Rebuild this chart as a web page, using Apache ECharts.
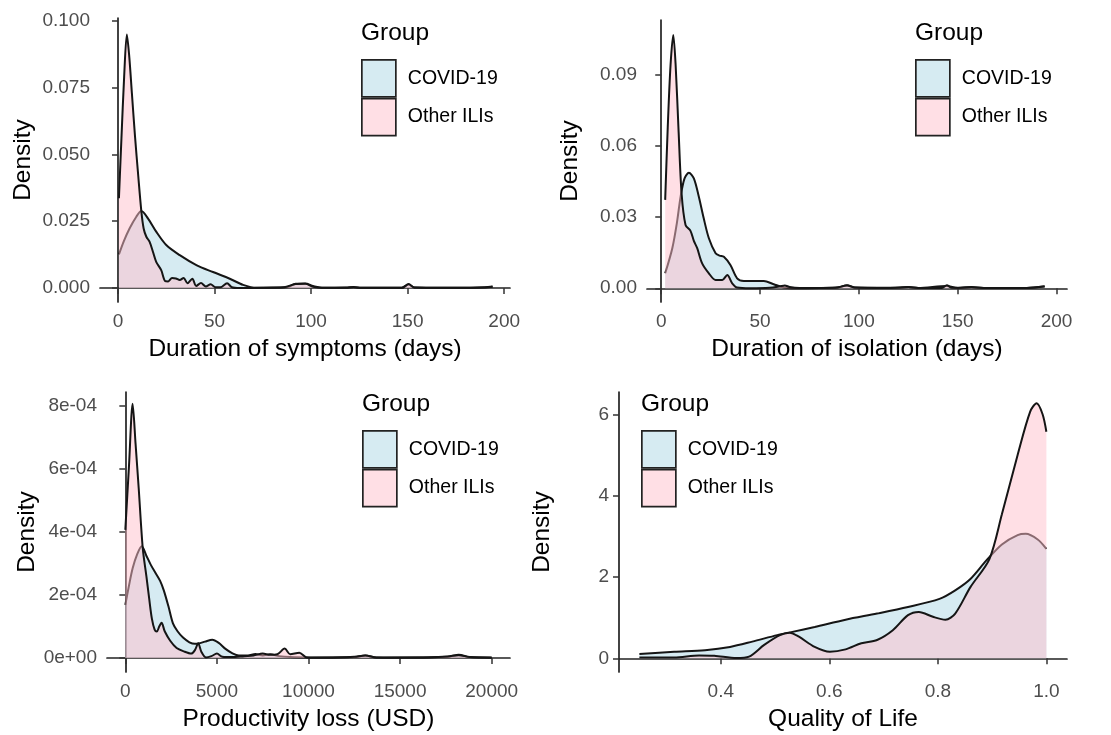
<!DOCTYPE html>
<html>
<head>
<meta charset="utf-8">
<title>Density plots</title>
<script src="https://cdn.jsdelivr.net/npm/echarts@6/dist/echarts.min.js"></script>
<style>
  html, body { margin: 0; padding: 0; background: #fff; }
  #chart { width: 1111px; height: 735px; }
</style>
</head>
<body>
<div id="chart"></div>
<script>
// ---------- values ----------
const groups = ['COVID-19', 'Other ILIs'];

// duration of symptoms (days) -> density
const symptomsCovid = [
  [0.5, 0.0126], [3, 0.0175], [6, 0.0223], [9.5, 0.0267], [12.1, 0.0288], [15.5, 0.0261],
  [19.8, 0.0211], [25, 0.0161], [32, 0.0123], [40.6, 0.0086], [49.2, 0.006], [57.9, 0.0035],
  [64.8, 0.0012], [71.7, 0.0001], [80, 0.0002], [88, 0.0004], [92, 0.0016], [97, 0.0017],
  [101, 0.0008], [106, 0.0001], [118, 0.0002], [122, 0.0004], [126, 0.0001], [147, 0.0001],
  [150.5, 0.0013], [153.5, 0.0002], [175, 0.0001], [190, 0.0003], [194, 0.0006]
];
const symptomsOther = [
  [0.5, 0.0336], [1.8, 0.056], [3.2, 0.079], [4.6, 0.0948], [5.8, 0.087], [7.2, 0.073],
  [8.8, 0.057], [10.5, 0.042], [12.1, 0.0288], [13.3, 0.0223], [14.7, 0.0192], [16.4, 0.0173],
  [18.1, 0.0136], [19.8, 0.0098], [22.4, 0.0067], [24.5, 0.0026], [26, 0.0025], [28, 0.0038],
  [30, 0.0036], [32, 0.003], [34, 0.0038], [36, 0.0018], [38.5, 0.0035], [40.5, 0.0008],
  [43, 0.0019], [45.5, 0.0006], [48, 0.0014], [50.5, 0.0003], [53, 0.0003], [56.5, 0.0018],
  [59, 0.0003], [63, 0], [75, 0.0001], [86, 0.0003], [92, 0.0015], [97, 0.0016], [101, 0.0005],
  [106, 0.0001], [118, 0.0001], [122, 0.0003], [126, 0.0001], [147, 0.0001], [150.5, 0.0015],
  [153.5, 0.0002], [175, 0.0001], [190, 0.0002], [194, 0.0005]
];

// duration of isolation (days) -> density
const isolationCovid = [
  [2, 0.0063], [5.6, 0.0169], [8, 0.028], [9.8, 0.0387], [11.8, 0.0464], [14, 0.0487],
  [16.5, 0.0464], [19, 0.0387], [21.5, 0.0295], [24.1, 0.0211], [27.5, 0.0148], [29.5, 0.0138],
  [31.7, 0.0133], [35, 0.0098], [38.4, 0.0042], [41.8, 0.0031], [47, 0.0031], [51.9, 0.0031],
  [56.9, 0.0017], [62, 0.0003], [66, 0], [80, 0.0001], [90, 0.0004], [94, 0.0013], [98, 0.0003],
  [120, 0.0002], [125, 0.0005], [130, 0.0001], [144.5, 0.001], [150, 0.0001], [157, 0.0004],
  [165, 0.0001], [185, 0.0001], [194, 0.0007]
];
const isolationOther = [
  [2, 0.0373], [3.3, 0.068], [4.7, 0.094], [6.1, 0.1069], [7.3, 0.094], [8.8, 0.066],
  [10.3, 0.04], [12.3, 0.0267], [14.8, 0.0242], [16.5, 0.02], [18.2, 0.0169], [20.7, 0.0105],
  [24.1, 0.0063], [27.5, 0.0035], [30.9, 0.0035], [33.4, 0.0056], [35.9, 0.0021], [38.4, 0.0003],
  [45, 0], [55, 0.0002], [60, 0.0008], [62.5, 0.0012], [65, 0.0005], [70, 0.0001], [88, 0.0002],
  [94, 0.0012], [98, 0.0003], [115, 0.0001], [125, 0.0005], [130, 0.0001], [142, 0.0001],
  [144.5, 0.0013], [147, 0.0002], [157, 0.0005], [163, 0.0001], [185, 0.0001], [194, 0.0008]
];

// productivity loss (USD) -> density
const lossCovid = [
  [0, 1.69e-4], [200, 2.3e-4], [400, 2.85e-4], [650, 3.3e-4], [900, 3.55e-4], [1150, 3.25e-4],
  [1400, 2.95e-4], [1650, 2.7e-4], [1900, 2.45e-4], [2100, 2.15e-4], [2350, 1.65e-4],
  [2600, 1.1e-4], [2850, 0.85e-4], [3150, 0.65e-4], [3500, 0.5e-4], [3800, 0.45e-4],
  [4000, 0.46e-4], [4350, 0.52e-4], [4750, 0.58e-4], [5100, 0.48e-4], [5450, 0.3e-4],
  [5850, 0.15e-4], [6200, 0.08e-4], [6700, 0.08e-4], [7100, 0.13e-4], [7500, 0.08e-4],
  [7900, 0.12e-4], [8400, 0.06e-4], [9000, 0.03e-4], [10000, 0.02e-4], [12500, 0.03e-4],
  [13100, 0.08e-4], [13700, 0.02e-4], [17600, 0.04e-4], [18200, 0.1e-4], [18800, 0.03e-4],
  [20000, 0.01e-4]
];
const lossOther = [
  [0, 4.07e-4], [200, 6.1e-4], [400, 8.08e-4], [560, 6.8e-4], [730, 5.4e-4], [950, 3.5e-4],
  [1150, 2.6e-4], [1300, 1.9e-4], [1450, 1.25e-4], [1600, 0.9e-4], [1720, 0.84e-4],
  [1850, 1.0e-4], [1980, 1.12e-4], [2150, 0.85e-4], [2450, 0.55e-4], [2800, 0.32e-4],
  [3200, 0.21e-4], [3600, 0.14e-4], [3800, 0.25e-4], [3980, 0.47e-4], [4150, 0.2e-4],
  [4400, 0.02e-4], [4700, 0.06e-4], [5000, 0.14e-4], [5300, 0.04e-4], [5800, 0.03e-4],
  [6500, 0.06e-4], [7000, 0.08e-4], [7500, 0.14e-4], [7900, 0.1e-4], [8300, 0.12e-4],
  [8700, 0.3e-4], [9000, 0.12e-4], [9500, 0.17e-4], [9900, 0.02e-4], [11000, 0.01e-4],
  [12500, 0.04e-4], [13100, 0.08e-4], [13700, 0.02e-4], [16000, 0.01e-4], [17600, 0.05e-4],
  [18200, 0.09e-4], [18800, 0.03e-4], [20000, 0.02e-4]
];

// quality of life -> density
const qolCovid = [
  [0.25, 0.106], [0.314, 0.16], [0.371, 0.2], [0.417, 0.28], [0.458, 0.41], [0.504, 0.57],
  [0.532, 0.65], [0.573, 0.77], [0.63, 0.95], [0.688, 1.1], [0.745, 1.26], [0.803, 1.46],
  [0.832, 1.67], [0.86, 1.95], [0.889, 2.4], [0.918, 2.8], [0.947, 3.03], [0.962, 3.06],
  [0.984, 2.92], [1.0, 2.69]
];
const qolOther = [
  [0.25, 0.02], [0.314, 0.02], [0.36, 0.07], [0.388, 0.06], [0.429, 0.005], [0.452, 0.04],
  [0.48, 0.33], [0.509, 0.57], [0.527, 0.63], [0.544, 0.53], [0.573, 0.28], [0.601, 0.16],
  [0.63, 0.22], [0.659, 0.37], [0.688, 0.45], [0.717, 0.69], [0.745, 1.06], [0.765, 1.14],
  [0.791, 1.02], [0.814, 0.95], [0.832, 1.1], [0.86, 1.75], [0.895, 2.44], [0.918, 3.54],
  [0.947, 5.0], [0.97, 6.06], [0.982, 6.27], [0.993, 6.0], [1.0, 5.57]
];

// tick values and labels
const symptomsXTicks = [0, 50, 100, 150, 200];
const symptomsYTicks = [0, 0.025, 0.05, 0.075, 0.1];
const symptomsYLabels = ['0.000', '0.025', '0.050', '0.075', '0.100'];
const isolationXTicks = [0, 50, 100, 150, 200];
const isolationYTicks = [0, 0.03, 0.06, 0.09];
const isolationYLabels = ['0.00', '0.03', '0.06', '0.09'];
const lossXTicks = [0, 5000, 10000, 15000, 20000];
const lossYTicks = [0, 2e-4, 4e-4, 6e-4, 8e-4];
const lossYLabels = ['0e+00', '2e-04', '4e-04', '6e-04', '8e-04'];
const qolXTicks = [0.4, 0.6, 0.8, 1.0];
const qolXLabels = ['0.4', '0.6', '0.8', '1.0'];
const qolYTicks = [0, 2, 4, 6];
const qolYLabels = ['0', '2', '4', '6'];

// ---------- chart ----------
const FONT = '"Liberation Sans", Arial, sans-serif';
const fillColors = ['rgba(173, 216, 230, 0.5)', 'rgba(255, 192, 203, 0.5)'];
const lineColor = '#151515';

const panels = [
  {
    grid: { left: 100, top: 18, width: 410, height: 284 },
    xRange: [-9.3, 203], yRange: [-0.0052, 0.101],
    xTicks: symptomsXTicks, xLabels: null, yTicks: symptomsYTicks, yLabels: symptomsYLabels,
    xName: 'Duration of symptoms (days)',
    data: [symptomsCovid, symptomsOther],
    legendAt: [361, 59]
  },
  {
    grid: { left: 647, top: 20, width: 420, height: 282 },
    xRange: [-7.2, 205.3], yRange: [-0.0058, 0.1132],
    xTicks: isolationXTicks, xLabels: null, yTicks: isolationYTicks, yLabels: isolationYLabels,
    xName: 'Duration of isolation (days)',
    data: [isolationCovid, isolationOther],
    legendAt: [915, 59]
  },
  {
    grid: { left: 107, top: 392, width: 403, height: 280 },
    xRange: [-1000, 21000], yRange: [-0.444e-4, 8.45e-4],
    xTicks: lossXTicks, xLabels: null, yTicks: lossYTicks, yLabels: lossYLabels,
    xName: 'Productivity loss (USD)',
    data: [lossCovid, lossOther],
    legendAt: [362, 430]
  },
  {
    grid: { left: 619, top: 392, width: 448, height: 280 },
    xRange: [0.2124, 1.038], yRange: [-0.337, 6.548],
    xTicks: qolXTicks, xLabels: qolXLabels, yTicks: qolYTicks, yLabels: qolYLabels,
    xName: 'Quality of Life',
    data: [qolCovid, qolOther],
    legendAt: [641, 430]
  }
];

function pickLabel(ticks, labels) {
  return function (value) {
    for (let i = 0; i < ticks.length; i++) {
      if (Math.abs(ticks[i] - value) < 1e-9 * Math.max(1, Math.abs(ticks[i]))) {
        return labels ? labels[i] : String(ticks[i]);
      }
    }
    return '';
  };
}

const axisLine = { show: true, lineStyle: { color: '#222', width: 1.7 } };
const axisTick = { show: true, length: 6, lineStyle: { color: '#333', width: 1.5 } };

const option = {
  animation: false,
  backgroundColor: '#fff',
  textStyle: { fontFamily: FONT },
  title: [],
  legend: [],
  grid: [],
  xAxis: [],
  yAxis: [],
  series: []
};

panels.forEach(function (p, i) {
  option.grid.push(p.grid);

  option.xAxis.push({
    type: 'value',
    gridIndex: i,
    min: p.xRange[0],
    max: p.xRange[1],
    splitLine: { show: false },
    axisLine: axisLine,
    axisTick: Object.assign({ customValues: p.xTicks }, axisTick),
    axisLabel: {
      customValues: p.xTicks,
      formatter: pickLabel(p.xTicks, p.xLabels),
      fontSize: 19, color: '#4d4d4d', margin: 10
    },
    name: p.xName,
    nameLocation: 'middle',
    nameGap: 35,
    nameTextStyle: { fontSize: 24.5, color: '#000' }
  });

  option.yAxis.push({
    type: 'value',
    gridIndex: i,
    min: p.yRange[0],
    max: p.yRange[1],
    splitLine: { show: false },
    axisLine: axisLine,
    axisTick: Object.assign({ customValues: p.yTicks }, axisTick),
    axisLabel: {
      customValues: p.yTicks,
      formatter: pickLabel(p.yTicks, p.yLabels),
      fontSize: 19, color: '#4d4d4d', margin: 10
    },
    name: 'Density',
    nameLocation: 'middle',
    nameGap: 64,
    nameTextStyle: { fontSize: 24.5, color: '#000' }
  });

  groups.forEach(function (g, k) {
    option.series.push({
      name: g,
      type: 'line',
      xAxisIndex: i,
      yAxisIndex: i,
      z: 2 + k,
      data: p.data[k],
      smooth: 0.3,
      symbol: 'none',
      showSymbol: false,
      silent: true,
      lineStyle: { color: lineColor, width: 2 },
      itemStyle: { color: lineColor },
      areaStyle: { color: fillColors[k], opacity: 1 }
    });
  });

  option.title.push({
    text: 'Group',
    left: p.legendAt[0],
    top: p.legendAt[1] - 38,
    padding: 0,
    textStyle: { fontSize: 24.5, fontWeight: 'normal', color: '#000', fontFamily: FONT }
  });

  option.legend.push({
    orient: 'vertical',
    left: p.legendAt[0],
    top: p.legendAt[1],
    padding: 0,
    itemWidth: 34,
    itemHeight: 37,
    itemGap: 0,
    selectedMode: false,
    textStyle: { fontSize: 19.5, color: '#000', padding: [0, 0, 0, 7], fontFamily: FONT },
    data: groups.map(function (g, k) {
      return {
        name: g,
        icon: 'rect',
        itemStyle: { color: fillColors[k], borderColor: '#222', borderWidth: 1.7, opacity: 1 }
      };
    })
  });
});

const chart = echarts.init(document.getElementById('chart'));
chart.setOption(option);
window.addEventListener('resize', function () { chart.resize(); });
</script>
</body>
</html>
